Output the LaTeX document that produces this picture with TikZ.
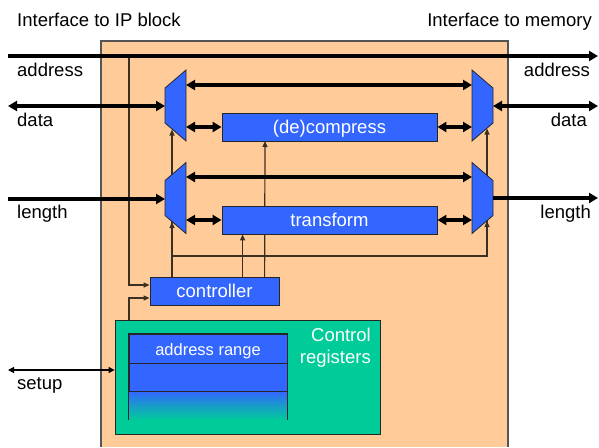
\documentclass[tikz,border=0pt]{standalone}
\usepackage{fontspec}
\setmainfont{Liberation Sans}
\usetikzlibrary{arrows.meta}
\definecolor{peach}{HTML}{FFCC99}
\definecolor{unitblue}{HTML}{3366FF}
\definecolor{regsgreen}{HTML}{00CC99}
\definecolor{wirecol}{HTML}{3B3024}
\definecolor{framecol}{HTML}{555555}

% multiplexers: #1 = centre y
\newcommand\leftmux[1]{%
  \filldraw[muxshape] (165,#1-17.5) -- (186,#1-35.5) -- (186,#1+35.5) -- (165,#1+17.5) -- cycle;}
\newcommand\rightmux[1]{%
  \filldraw[muxshape] (472,#1-35.5) -- (493,#1-17.5) -- (493,#1+17.5) -- (472,#1+35.5) -- cycle;}

\begin{document}
\begin{tikzpicture}[x=1pt,y=-1pt,
  txt/.style={font=\fontsize{18.5pt}{22pt}\selectfont, inner sep=0pt},
  bus/.style={line width=4pt},
  busarr/.style={bus, -{Triangle[length=9pt,width=10pt]}},
  busboth/.style={bus, {Triangle[length=9pt,width=10pt]}-{Triangle[length=9pt,width=10pt]}},
  wire/.style={draw=wirecol, line width=1.2pt},
  ctrl/.style={wire, -{Triangle[length=6pt,width=5pt]}},
  thinboth/.style={line width=1.2pt, {Triangle[length=6pt,width=6pt]}-{Triangle[length=6pt,width=6pt]}},
  muxshape/.style={fill=unitblue, draw=black!85, line width=0.8pt},
  block/.style={txt, draw=black!85, line width=0.8pt, fill=unitblue, text=white,
    text height=13pt, text depth=0pt},
  regrow/.style={block, font=\fontsize{16.5pt}{20pt}\selectfont, minimum width=158pt}
]
\useasboundingbox (0,0) rectangle (599,447);

% housing of the unit
\fill[peach] (101,41) rectangle (508,447);
\draw[framecol, line width=1.3pt] (101,447) -- (101,41) -- (508,41) -- (508,447);

% port and select coordinates
\coordinate (addrL) at (8,56);
\coordinate (addrR) at (598,56);
\coordinate (tap) at (129,56);
\coordinate (dataL) at (8,106);
\coordinate (dataR) at (598,106);
\coordinate (lenL) at (8,199);
\coordinate (lenR) at (598,198);
\coordinate (setupL) at (8,370);
\coordinate (jn) at (172,256);

\coordinate (ML1-in) at (165,106);
\coordinate (ML1-up) at (186,85);
\coordinate (ML1-lo) at (186,127);
\coordinate (ML1-sel) at (172,129.5);
\coordinate (MR1-out) at (493,106);
\coordinate (MR1-up) at (472,85);
\coordinate (MR1-lo) at (472,127);
\coordinate (MR1-sel) at (487,128.5);

\coordinate (ML2-in) at (165,199);
\coordinate (ML2-up) at (186,177);
\coordinate (ML2-lo) at (186,220);
\coordinate (ML2-sel) at (172,222);
\coordinate (MR2-out) at (493,198);
\coordinate (MR2-up) at (472,177);
\coordinate (MR2-lo) at (472,220);
\coordinate (MR2-sel) at (487,221);

% processing blocks
\node[block, minimum width=129pt, minimum height=28pt] (ctl) at (214.5,291) {controller};
\node[draw=black!85, line width=0.8pt, fill=regsgreen, minimum width=265pt, minimum height=114pt, inner sep=0pt] (regs) at (247.5,377) {};
\node[txt, text=white, align=right, anchor=north east] (regtitle) at (371,328) {Control\\registers};

% select lines from the controller (behind blocks)
\draw[ctrl] (ctl.north -| ML1-sel) -- (ML1-sel);
\draw[ctrl] (jn) -| (MR1-sel);
\draw[ctrl] ([xshift=115pt]ctl.north west) -- (265,141);
\draw[ctrl] (tap) |- ([yshift=6pt]ctl.west);
\draw[ctrl] (regs.north -| tap) |- ([yshift=-7pt]ctl.west);

% multiplexers
\leftmux{105.5}
\leftmux{198}
\rightmux{105.5}
\rightmux{198}

\node[block, minimum width=215pt, minimum height=28pt] (dec) at (329.5,127) {(de)compress};
\node[block, minimum width=215pt, minimum height=28pt] (trans) at (329.5,220) {transform};

\draw[ctrl] (ctl.north -| ML2-sel) -- (ML2-sel);
\draw[ctrl] (jn) -| (MR2-sel);
\draw[ctrl] ([xshift=93pt]ctl.north west) -- ([xshift=21pt]trans.south west);
\draw[wire] ([xshift=115pt]ctl.north west) -- ([xshift=43pt]trans.south west);

% register file
\node[regrow, minimum height=29pt] (reg1) at (208,348.5) {address range};
\node[regrow, minimum height=28pt] (reg2) at (208,377) {};
\shade[top color=unitblue, bottom color=regsgreen, middle color=unitblue!45!regsgreen]
  (reg2.south west) rectangle ([yshift=-29pt]reg2.south east);
\draw[black!85, line width=0.8pt] ([yshift=-29pt]reg2.south west) -- (reg2.south west)
  (reg2.south east) -- ([yshift=-29pt]reg2.south east);
\draw[draw=black!85, line width=0.8pt] (reg1.north west) rectangle (reg2.south east);
\draw[draw=black!85, line width=0.8pt] (reg1.south west) -- (reg1.south east);

% data paths
\draw[busarr] (addrL) -- (addrR);
\draw[busboth] (dataL) -- (ML1-in);
\draw[busboth] (ML1-up) -- (MR1-up);
\draw[busboth] (ML1-lo) -- (dec.west);
\draw[busboth] (dec.east) -- (MR1-lo);
\draw[busboth] (MR1-out) -- (dataR);

\draw[busarr] (lenL) -- (ML2-in);
\draw[busboth] (ML2-up) -- (MR2-up);
\draw[busboth] (ML2-lo) -- (trans.west);
\draw[busboth] (trans.east) -- (MR2-lo);
\draw[busarr] (MR2-out) -- (lenR);

\draw[thinboth] (setupL) -- (setupL -| regs.west);

% headings and port labels
\node[txt, anchor=base west] (tl) at (17,26) {Interface to IP block};
\node[txt, anchor=base east] (tr) at (592,26) {Interface to memory};
\node[txt, anchor=base west] (la) at (17,76) {address};
\node[txt, anchor=base west] (ld) at (17,126) {data};
\node[txt, anchor=base west] (ll) at (17,218) {length};
\node[txt, anchor=base west] (ls) at (17,389) {setup};
\node[txt, anchor=base east] (ra) at (590,76) {address};
\node[txt, anchor=base east] (rd) at (587,126) {data};
\node[txt, anchor=base east] (rl) at (591,218) {length};
\end{tikzpicture}
\end{document}
